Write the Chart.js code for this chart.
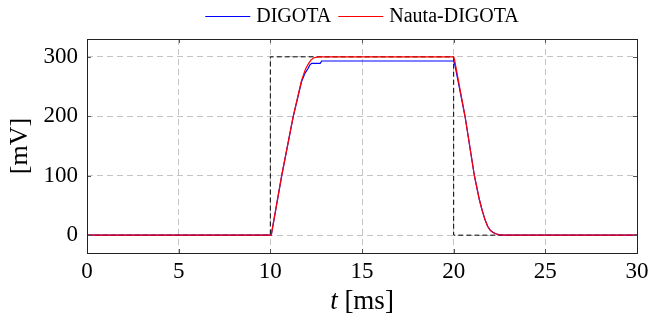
<!DOCTYPE html>
<html>
<head>
<meta charset="utf-8">
<script src="https://cdn.jsdelivr.net/npm/chart.js@4/dist/chart.umd.min.js"></script>
<style>html,body{margin:0;padding:0;background:#fff}</style>
</head>
<body>
<canvas id="chart" width="650" height="321"></canvas>
<script>
// tick labels
const xTicks = [0, 5, 10, 15, 20, 25, 30];
const yTicks = [0, 100, 200, 300];

// ideal step (dashed reference)
const refT = [0, 10, 10, 20, 20, 30];
const refV = [0, 0, 300, 300, 0, 0];

// DIGOTA response
const digotaT = [0, 10.05, 10.62, 11.25, 11.7, 11.9, 12.05, 12.15, 12.25, 12.72, 12.8, 20, 20.05, 20.62, 21.13, 21.4, 21.55, 21.7, 21.85, 22.0, 22.15, 22.3, 22.45, 22.65, 30];
const digotaV = [0, 0, 100, 200, 258, 273, 280, 286, 289, 289, 293, 293, 289, 200, 100, 60, 42, 27, 15, 8, 4.5, 2.3, 1, 0, 0];

// Nauta-DIGOTA response
const nautaT = [0, 10.05, 10.62, 11.25, 11.7, 11.9, 12.05, 12.2, 12.35, 12.6, 20, 20.05, 20.62, 21.13, 21.4, 21.55, 21.7, 21.85, 22.0, 22.15, 22.3, 22.45, 22.65, 30];
const nautaV = [0, 0, 100, 200, 260, 278, 287, 294, 298, 300, 300, 295, 200, 100, 60, 42, 27, 15, 8, 4.5, 2.3, 1, 0, 0];

const pts = (t, v) => t.map((x, i) => ({x: x, y: v[i]}));
const serif = "'Liberation Serif', 'DejaVu Serif', serif";

// frame, inner ticks, axis titles and legend
const decor = {
    id: "decor",
    afterDraw(chart) {
        const ctx = chart.ctx;
        const a = chart.chartArea;
        const sx = chart.scales.x, sy = chart.scales.y;
        ctx.save();
        ctx.strokeStyle = "#555";
        ctx.lineWidth = 1;
        ctx.beginPath();
        xTicks.forEach(v => {
            const px = Math.round(sx.getPixelForValue(v)) + 0.5;
            ctx.moveTo(px, a.bottom); ctx.lineTo(px, a.bottom - 4);
            ctx.moveTo(px, a.top); ctx.lineTo(px, a.top + 4);
        });
        yTicks.forEach(v => {
            const py = Math.round(sy.getPixelForValue(v)) + 0.5;
            ctx.moveTo(a.left, py); ctx.lineTo(a.left + 4, py);
            ctx.moveTo(a.right, py); ctx.lineTo(a.right - 4, py);
        });
        ctx.stroke();

        ctx.strokeStyle = "#222";
        ctx.strokeRect(Math.round(a.left) + 0.5, Math.round(a.top) + 0.5,
            Math.round(a.right - a.left), Math.round(a.bottom - a.top));

        // x title: italic t + [ms]
        ctx.fillStyle = "#000";
        ctx.textBaseline = "middle";
        const cx = (a.left + a.right) / 2;
        ctx.font = "italic 27px " + serif;
        const w1 = ctx.measureText("t").width;
        ctx.font = "27px " + serif;
        const w2 = ctx.measureText(" [ms]").width;
        let x0 = cx - (w1 + w2) / 2;
        ctx.textAlign = "left";
        ctx.font = "italic 27px " + serif;
        ctx.fillText("t", x0, 302);
        ctx.font = "27px " + serif;
        ctx.fillText(" [ms]", x0 + w1, 302);

        // y title
        ctx.save();
        ctx.translate(20, (a.top + a.bottom) / 2);
        ctx.rotate(-Math.PI / 2);
        ctx.textAlign = "center";
        ctx.font = "26px " + serif;
        ctx.fillText("[mV]", 0, 0);
        ctx.restore();

        // legend
        const items = chart.data.datasets.filter(d => d.label);
        ctx.font = "20px " + serif;
        const lineLen = 45, gap = 6, sep = 7;
        let total = 0;
        items.forEach(d => { total += lineLen + gap + ctx.measureText(d.label).width; });
        total += sep * (items.length - 1);
        let lx = cx - total / 2;
        const ly = 16.5;
        items.forEach(d => {
            ctx.strokeStyle = d.borderColor;
            ctx.lineWidth = 1.2;
            ctx.beginPath();
            ctx.moveTo(lx, ly); ctx.lineTo(lx + lineLen, ly);
            ctx.stroke();
            lx += lineLen + gap;
            ctx.fillText(d.label, lx, ly);
            lx += ctx.measureText(d.label).width + sep;
        });
        ctx.restore();
    }
};

new Chart(document.getElementById("chart"), {
    type: "line",
    data: {
        datasets: [{
            label: "DIGOTA",
            data: pts(digotaT, digotaV),
            borderColor: "#0000ff",
            borderWidth: 1.2,
            pointRadius: 0,
            tension: 0,
            order: 2
        },
        {
            label: "Nauta-DIGOTA",
            data: pts(nautaT, nautaV),
            borderColor: "#ff0000",
            borderWidth: 1.2,
            pointRadius: 0,
            tension: 0,
            order: 1
        },
        {
            label: "",
            data: pts(refT, refV),
            borderColor: "#000",
            borderWidth: 1,
            borderDash: [5, 3],
            pointRadius: 0,
            tension: 0,
            order: 3
        }]
    },
    options: {
        responsive: false,
        animation: false,
        layout: {padding: {left: 0, right: 13, top: 39, bottom: 0}},
        plugins: {legend: {display: false}, tooltip: {enabled: false}},
        scales: {
            x: {
                type: "linear",
                min: 0, max: 30,
                afterBuildTicks: s => { s.ticks = xTicks.map(v => ({value: v})); },
                afterFit: s => { s.height = 68; s.paddingLeft = 0; s.paddingRight = 0; },
                grid: {color: "#c4c4c4", drawTicks: false, lineWidth: 1},
                border: {display: false, dash: [6, 4]},
                ticks: {font: {family: serif, size: 23}, color: "#000", padding: 5, maxRotation: 0}
            },
            y: {
                min: -30, max: 330,
                afterBuildTicks: s => { s.ticks = yTicks.map(v => ({value: v})); },
                afterFit: s => { s.width = 87; s.paddingTop = 0; s.paddingBottom = 0; },
                grid: {color: "#c4c4c4", drawTicks: false, lineWidth: 1},
                border: {display: false, dash: [6, 4]},
                ticks: {font: {family: serif, size: 23}, color: "#000", padding: 9}
            }
        }
    },
    plugins: [decor]
});
</script>
</body>
</html>
